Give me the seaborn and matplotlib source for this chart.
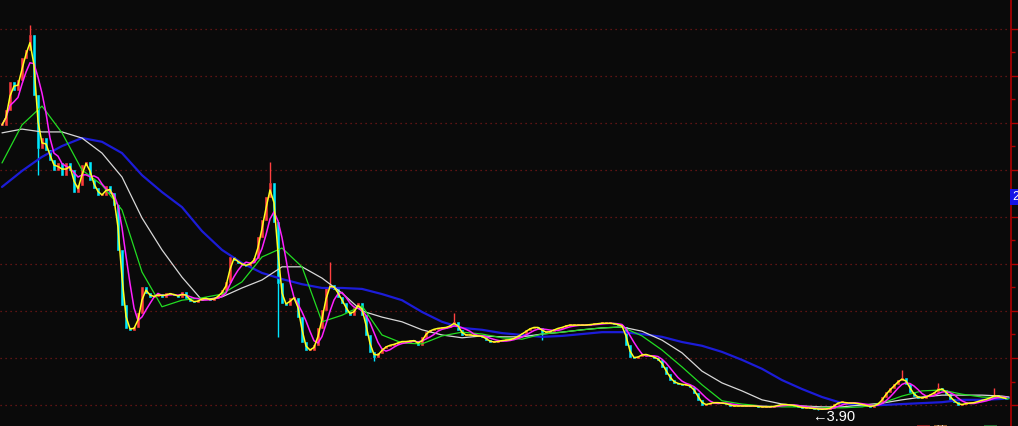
import numpy as np
import pandas as pd
import matplotlib
matplotlib.use("Agg")
import matplotlib.pyplot as plt
import seaborn as sns

# ---------------- data ----------------
close = [
    9.96, 10.28, 10.87, 10.70, 10.91, 11.38, 11.55, 11.87, 10.60, 9.47,
    9.68, 9.43, 9.21, 9.00, 9.15, 8.89, 9.15, 9.00, 8.53, 8.68,
    9.11, 9.17, 8.79, 8.62, 8.47, 8.47, 8.66, 8.51, 8.26, 7.30,
    6.13, 5.64, 5.60, 5.66, 5.96, 6.51, 6.38, 6.30, 6.32, 6.36,
    6.30, 6.38, 6.36, 6.34, 6.30, 6.40, 6.28, 6.21, 6.19, 6.23,
    6.28, 6.26, 6.23, 6.28, 6.34, 6.45, 6.62, 7.15, 7.09, 7.02,
    6.98, 6.96, 7.04, 7.13, 7.57, 7.94, 8.43, 8.72, 7.89, 6.60,
    6.17, 6.13, 6.28, 6.28, 5.87, 5.34, 5.17, 5.17, 5.28, 5.64,
    6.02, 6.49, 6.55, 6.47, 6.30, 6.17, 5.98, 5.91, 6.06, 6.17,
    5.91, 5.49, 5.13, 5.02, 5.11, 5.21, 5.26, 5.28, 5.30, 5.34,
    5.36, 5.34, 5.38, 5.36, 5.28, 5.45, 5.55, 5.60, 5.62, 5.64,
    5.64, 5.66, 5.70, 5.77, 5.60, 5.49, 5.49, 5.49, 5.47, 5.47,
    5.45, 5.38, 5.34, 5.34, 5.36, 5.38, 5.38, 5.40, 5.43, 5.49,
    5.53, 5.60, 5.64, 5.66, 5.64, 5.55, 5.55, 5.57, 5.62, 5.64,
    5.66, 5.70, 5.70, 5.70, 5.70, 5.70, 5.70, 5.72, 5.72, 5.74,
    5.74, 5.74, 5.74, 5.72, 5.70, 5.66, 5.28, 5.02, 5.00, 5.04,
    5.09, 5.06, 5.04, 5.00, 4.96, 4.81, 4.66, 4.53, 4.47, 4.45,
    4.43, 4.43, 4.38, 4.26, 4.11, 4.00, 4.02, 4.04, 4.06, 4.04,
    4.04, 4.02, 3.98, 3.98, 3.98, 3.98, 3.98, 3.98, 3.98, 3.96,
    3.96, 3.96, 3.96, 3.98, 4.00, 4.02, 4.00, 4.00, 3.98, 3.96,
    3.94, 3.94, 3.93, 3.92, 3.91, 3.91, 3.92, 3.94, 4.02, 4.06,
    4.06, 4.04, 4.04, 4.04, 4.02, 4.00, 3.98, 3.96, 4.00, 4.04,
    4.17, 4.28, 4.36, 4.45, 4.53, 4.57, 4.45, 4.28, 4.19, 4.15,
    4.15, 4.19, 4.23, 4.28, 4.36, 4.32, 4.23, 4.13, 4.06, 4.00,
    4.02, 4.04, 4.04, 4.06, 4.09, 4.11, 4.13, 4.17, 4.21, 4.17,
    4.15, 4.13,
]

# long moving averages, read every 5 bars
ma_bars = list(range(0, 251, 5)) + [251.75]
ma_green = [
    9.15, 9.96, 10.36, 9.79, 9.00, 8.68, 8.15, 6.83, 6.09, 6.23,
    6.28, 6.36, 6.62, 7.15, 7.34, 6.94, 5.77, 5.91, 6.11, 5.49,
    5.32, 5.30, 5.47, 5.55, 5.51, 5.43, 5.40, 5.51, 5.55, 5.60,
    5.64, 5.66, 5.47, 5.17, 4.81, 4.43, 4.09, 4.02, 3.98, 3.96,
    3.96, 3.94, 3.94, 3.96, 4.04, 4.19, 4.30, 4.32, 4.23, 4.17,
    4.15, 4.13,
]
ma_white = [
    9.79, 9.87, 9.81, 9.81, 9.68, 9.36, 8.85, 7.98, 7.30, 6.72,
    6.23, 6.30, 6.49, 6.66, 6.94, 6.94, 6.70, 6.38, 6.00, 5.87,
    5.77, 5.60, 5.49, 5.43, 5.47, 5.45, 5.45, 5.51, 5.55, 5.60,
    5.64, 5.66, 5.57, 5.38, 5.11, 4.72, 4.47, 4.30, 4.11, 4.02,
    3.98, 3.96, 3.96, 4.00, 4.04, 4.11, 4.17, 4.21, 4.21, 4.21,
    4.19, 4.17,
]
ma_blue = [
    8.64, 8.98, 9.28, 9.51, 9.68, 9.60, 9.36, 8.89, 8.53, 8.21,
    7.70, 7.30, 7.02, 6.81, 6.68, 6.57, 6.49, 6.49, 6.47, 6.36,
    6.23, 5.98, 5.77, 5.64, 5.60, 5.53, 5.49, 5.45, 5.47, 5.51,
    5.55, 5.55, 5.51, 5.45, 5.34, 5.26, 5.13, 4.96, 4.77, 4.53,
    4.34, 4.17, 4.04, 3.98, 4.00, 4.02, 4.04, 4.06, 4.11, 4.11,
    4.13, 4.15,
]

# notable wicks (bar index, extreme price)
spike_bars = [7, 9, 67, 69, 82, 93, 113, 135, 225, 234, 248, 204]
spike_ends = [12.09, 8.89, 9.17, 5.45, 7.04, 4.94, 5.96, 5.38, 4.74, 4.47, 4.36, 3.90]

grid_levels = [4, 5, 6, 7, 8, 9, 10, 11, 12]
low_label = "←3.90"
axis_tag = "2"
bottom_tags = ["以", "协", "以"]

# ---------------- style ----------------
BG = "#0a0a0a"
sns.set_theme(style="dark", rc={"axes.facecolor": BG, "figure.facecolor": BG})
plt.rcParams["font.family"] = ["Liberation Sans", "DejaVu Sans"]

W, H = 1018, 426
fig = plt.figure(figsize=(W / 100, H / 100), dpi=100, facecolor=BG)
axis_px = 1011
ax = fig.add_axes([0, 0, axis_px / W, 1])
ax.set_facecolor(BG)
ax.grid(False)

n = len(close)
bars = np.arange(n)
df = pd.DataFrame({"bar": bars, "close": close})
df["open"] = df["close"].shift(1).fillna(df["close"])
df["ma_fast"] = df["close"].rolling(2, min_periods=1).mean()
df["ma_mid"] = df["close"].rolling(5, min_periods=1).mean()

xmin, xmax = -0.5, axis_px / 4 - 0.5
ymin, ymax = 4 - 21 / 47, 4 + 405 / 47
ax.set_xlim(xmin, xmax)
ax.set_ylim(ymin, ymax)

# grid
ax.hlines(grid_levels, xmin, xmax, colors="#7a1818", linestyles=(0, (1, 3)),
          linewidth=0.9, zorder=1)

# wicks
spike_from = [close[b] for b in spike_bars]
spike_cols = ["#ff4040" if e > s else "#00e5ff" for e, s in zip(spike_ends, spike_from)]
ax.vlines(spike_bars, spike_from, spike_ends, colors=spike_cols, linewidth=1.0, zorder=2)

# candle bodies (open = previous close)
up = df["close"] >= df["open"]
body_lo = np.minimum(df["open"], df["close"])
body_h = np.maximum(np.abs(df["close"] - df["open"]), 0.025)
ax.bar(df["bar"][up], body_h[up], bottom=body_lo[up], width=0.55,
       color="#ff3c3c", edgecolor="#ff3c3c", linewidth=0.4, zorder=2)
ax.bar(df["bar"][~up], body_h[~up], bottom=body_lo[~up], width=0.55,
       color="#00e8ff", edgecolor="#00e8ff", linewidth=0.4, zorder=2)

# moving averages
ma_df = pd.DataFrame({"bar": ma_bars, "green": ma_green, "white": ma_white, "blue": ma_blue})
sns.lineplot(data=ma_df, x="bar", y="blue", ax=ax, color="#1c1cd8", linewidth=1.6, zorder=3)
sns.lineplot(data=ma_df, x="bar", y="white", ax=ax, color="#d8d8d8", linewidth=0.9, zorder=3)
sns.lineplot(data=ma_df, x="bar", y="green", ax=ax, color="#22dd22", linewidth=0.9, zorder=3)
sns.lineplot(data=df, x="bar", y="ma_mid", ax=ax, color="#ff20ff", linewidth=1.1, zorder=4)
sns.lineplot(data=df, x="bar", y="ma_fast", ax=ax, color="#ffff20", linewidth=1.1, zorder=4)

# axis decoration
ax.set_xlabel("")
ax.set_ylabel("")
for s in ["left", "top", "bottom"]:
    ax.spines[s].set_visible(False)
ax.spines["right"].set_visible(True)
ax.spines["right"].set_color("#b00000")
ax.spines["right"].set_linewidth(1.2)
ax.set_xticks([])
ax.yaxis.tick_right()
ax.set_yticks(grid_levels)
ax.set_yticks([g + 0.5 for g in grid_levels[:-1]], minor=True)
ax.set_yticklabels([])
ax.tick_params(axis="y", which="major", length=5, width=1, color="#b00000", direction="out")
ax.tick_params(axis="y", which="minor", length=3, width=1, color="#b00000", direction="out")

# lowest-price marker
imin = int(np.argmin(close))
ax.text(imin - 1.5, close[imin] - 0.17, low_label, color="white", fontsize=10.5,
        ha="left", va="center", zorder=5)

# price tag on the right axis
fig.text(1012 / W, 1 - 197 / H, axis_tag, color="white", fontsize=9, ha="left", va="center",
         bbox=dict(facecolor="#1414e6", edgecolor="none", pad=1.5))

# signal tags at the bottom edge (clipped by the frame, as in the reference)
for xp, col, t in zip([918, 935, 985], ["#8a1a1a", "#8a5a2a", "#1f6b2f"], bottom_tags):
    fig.text(xp / W, 1 - 431 / H, t, color="white", fontsize=8, ha="left", va="center",
             family=["Noto Sans CJK SC", "DejaVu Sans"],
             bbox=dict(facecolor=col, edgecolor="none", pad=1.0))

fig.savefig("out.png", dpi=100, facecolor=BG)
